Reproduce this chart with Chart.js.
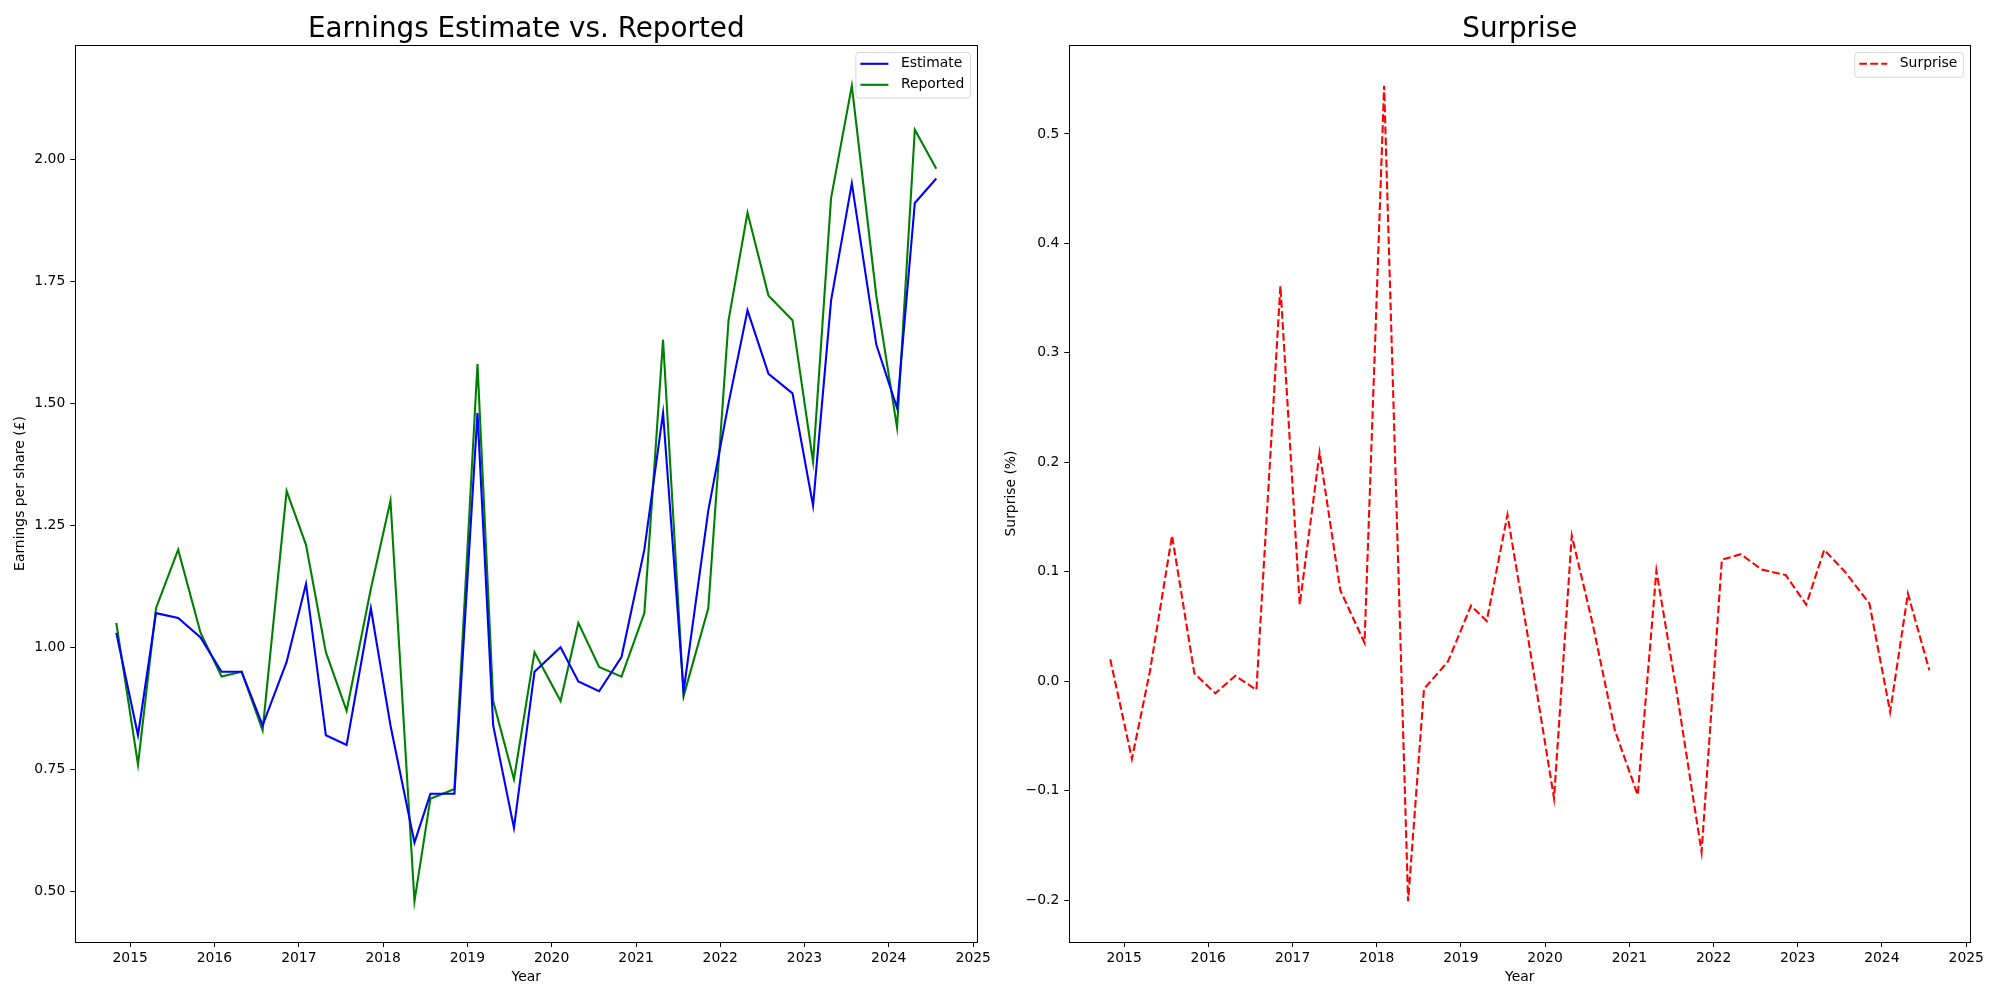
<!DOCTYPE html>
<html>
<head>
<meta charset="utf-8">
<script src="https://cdn.jsdelivr.net/npm/chart.js@4.4.1/dist/chart.umd.min.js"></script>
<style>
  html, body { margin: 0; padding: 0; background: #fff; }
  #wrap { position: relative; width: 2000px; height: 1000px; }
  canvas { position: absolute; top: 0; }
</style>
</head>
<body>
<div id="wrap">
  <canvas id="epsChart" width="1000" height="1000" style="left:0"></canvas>
  <canvas id="surpriseChart" width="1000" height="1000" style="left:1000px"></canvas>
</div>
<script>
// quarterly report dates
const reportDates = [
  "2014-11-02", "2015-02-04", "2015-04-23", "2015-07-28", "2015-11-02",
  "2016-02-01", "2016-04-28", "2016-07-28", "2016-11-09", "2017-02-01",
  "2017-04-28", "2017-07-27", "2017-11-09", "2018-02-02", "2018-05-17",
  "2018-07-25", "2018-11-06", "2019-02-14", "2019-04-23", "2019-07-22",
  "2019-10-19", "2020-02-09", "2020-04-26", "2020-07-25", "2020-10-30",
  "2021-02-06", "2021-04-28", "2021-07-26", "2021-11-10", "2022-02-06",
  "2022-04-29", "2022-07-29", "2022-11-10", "2023-02-07", "2023-04-26",
  "2023-07-25", "2023-11-08", "2024-02-06", "2024-04-23", "2024-07-25"
];
const estimateEps = [
  1.03, 0.82, 1.07, 1.06, 1.02, 0.95, 0.95, 0.84, 0.97, 1.13,
  0.82, 0.80, 1.08, 0.84, 0.60, 0.70, 0.70, 1.48, 0.84, 0.63,
  0.95, 1.00, 0.93, 0.91, 0.98, 1.20, 1.48, 0.91, 1.28, 1.50,
  1.69, 1.56, 1.52, 1.29, 1.71, 1.95, 1.62, 1.49, 1.91, 1.96
];
const reportedEps = [
  1.05, 0.76, 1.08, 1.20, 1.03, 0.94, 0.95, 0.83, 1.32, 1.21,
  0.99, 0.87, 1.12, 1.30, 0.48, 0.69, 0.71, 1.58, 0.89, 0.73,
  0.99, 0.89, 1.05, 0.96, 0.94, 1.07, 1.63, 0.90, 1.08, 1.67,
  1.89, 1.72, 1.67, 1.38, 1.92, 2.15, 1.72, 1.45, 2.06, 1.98
];
const surprisePct = [
  0.020, -0.071, 0.009, 0.133, 0.007, -0.011, 0.005, -0.008, 0.361, 0.070,
  0.209, 0.083, 0.035, 0.544, -0.201, -0.007, 0.018, 0.069, 0.055, 0.152,
  0.040, -0.107, 0.133, 0.053, -0.045, -0.104, 0.101, -0.011, -0.156, 0.111,
  0.116, 0.102, 0.097, 0.070, 0.120, 0.100, 0.071, -0.028, 0.080, 0.010
];
const yearTicks = [2015, 2016, 2017, 2018, 2019, 2020, 2021, 2022, 2023, 2024, 2025];
const epsTicks = [0.5, 0.75, 1.0, 1.25, 1.5, 1.75, 2.0];
const surpriseTicks = [-0.2, -0.1, 0.0, 0.1, 0.2, 0.3, 0.4, 0.5];

const DAY = 86400000;
const xs = reportDates.map(s => Date.parse(s + "T00:00:00Z") / DAY);
const yearPos = yearTicks.map(y => Date.UTC(y, 0, 1) / DAY);

// matplotlib style 5% margins
function padded(arr) {
  const lo = Math.min(...arr), hi = Math.max(...arr);
  const m = (hi - lo) * 0.05;
  return [lo - m, hi + m];
}
const xRange = padded(xs);

Chart.defaults.font.family = '"DejaVu Sans", sans-serif';
Chart.defaults.color = "#000";

// box round the plot area plus a title centred over it
const frame = {
  id: "frame",
  afterDraw(chart, args, opts) {
    const { ctx, chartArea: a } = chart;
    ctx.save();
    ctx.strokeStyle = "#000";
    ctx.lineWidth = 1;
    ctx.strokeRect(Math.round(a.left) + 0.5, Math.round(a.top) + 0.5,
      Math.round(a.right - a.left), Math.round(a.bottom - a.top));
    ctx.font = '27.8px "DejaVu Sans"';
    ctx.fillStyle = "#000";
    ctx.textAlign = "center";
    ctx.textBaseline = "middle";
    ctx.fillText(opts.title, (a.left + a.right) / 2, 29.7);
    ctx.restore();
  }
};

const boxedLegend = {
  id: "boxedLegend",
  afterDraw(chart) {
    const { ctx, chartArea } = chart;
    const sets = chart.data.datasets;
    ctx.save();
    ctx.font = '13.9px "DejaVu Sans"';
    const textW = Math.max(...sets.map(d => ctx.measureText(d.label).width));
    const w = 45 + textW + 6;
    const h = 4 + 20.8 * sets.length;
    const left = chartArea.right - 7 - w;
    const top = chartArea.top + 7.5;
    ctx.beginPath();
    ctx.roundRect(left, top, w, h, 3);
    ctx.fillStyle = "#fff";
    ctx.fill();
    ctx.strokeStyle = "#d6d6d6";
    ctx.lineWidth = 1;
    ctx.stroke();
    sets.forEach((d, i) => {
      const y = top + 11.3 + i * 21;
      ctx.beginPath();
      ctx.setLineDash(d.borderDash || []);
      ctx.strokeStyle = d.borderColor;
      ctx.lineWidth = d.borderWidth;
      ctx.moveTo(left + 4.5, y);
      ctx.lineTo(left + 32.5, y);
      ctx.stroke();
      ctx.setLineDash([]);
      ctx.fillStyle = "#000";
      ctx.textBaseline = "middle";
      ctx.textAlign = "left";
      ctx.fillText(d.label, left + 45, y);
    });
    ctx.restore();
  }
};

function makeOptions(cfg) {
  return {
    responsive: false,
    animation: false,
    devicePixelRatio: 1,
    layout: { padding: { left: 0, right: cfg.padRight, top: 45, bottom: 0 } },
    plugins: {
      legend: { display: false },
      tooltip: { enabled: false },
      title: { display: false },
      frame: { title: cfg.title }
    },
    scales: {
      x: {
        type: "linear",
        min: xRange[0],
        max: xRange[1],
        afterBuildTicks: s => { s.ticks = yearPos.map(v => ({ value: v })); },
        afterFit: s => { s.height = 58; },
        ticks: {
          font: { size: 13.9 },
          padding: 3,
          maxRotation: 0,
          autoSkip: false,
          callback: v => String(new Date(v * DAY).getUTCFullYear())
        },
        grid: { display: true, drawOnChartArea: false, drawTicks: true, tickLength: 5, color: "#000", lineWidth: 1 },
        border: { display: false },
        title: { display: true, text: "Year", font: { size: 13.9 }, padding: { top: 0, bottom: 14.6 } }
      },
      y: {
        type: "linear",
        min: cfg.yRange[0],
        max: cfg.yRange[1],
        afterBuildTicks: s => { s.ticks = cfg.yTicks.map(v => ({ value: v })); },
        afterFit: s => { s.width = cfg.yWidth; },
        ticks: { font: { size: 13.9 }, padding: 5, autoSkip: false, callback: cfg.yFmt },
        grid: { display: true, drawOnChartArea: false, drawTicks: true, tickLength: 5, color: "#000", lineWidth: 1 },
        border: { display: false },
        title: { display: true, text: cfg.yLabel, font: { size: 13.9 }, padding: { top: cfg.yTitlePad, bottom: 0 } }
      }
    }
  };
}

const pts = arr => arr.map((v, i) => ({ x: xs[i], y: v }));

new Chart(document.getElementById("epsChart"), {
  type: "line",
  data: {
    datasets: [
      { label: "Estimate", data: pts(estimateEps), borderColor: "#0000ff", borderWidth: 2.1, pointRadius: 0, tension: 0 },
      { label: "Reported", data: pts(reportedEps), borderColor: "#008000", borderWidth: 2.1, pointRadius: 0, tension: 0 }
    ]
  },
  options: makeOptions({
    title: "Earnings Estimate vs. Reported",
    yLabel: "Earnings per share (£)",
    yRange: padded(estimateEps.concat(reportedEps)),
    yTicks: epsTicks,
    yFmt: v => v.toFixed(2),
    yWidth: 75.3,
    yTitlePad: 11.6,
    padRight: 22.7
  }),
  plugins: [frame, boxedLegend]
});

new Chart(document.getElementById("surpriseChart"), {
  type: "line",
  data: {
    datasets: [
      { label: "Surprise", data: pts(surprisePct), borderColor: "#ff0000", borderWidth: 2.1, borderDash: [7.7, 3.3], pointRadius: 0, tension: 0 }
    ]
  },
  options: makeOptions({
    title: "Surprise",
    yLabel: "Surprise (%)",
    yRange: padded(surprisePct),
    yTicks: surpriseTicks,
    yFmt: v => v.toFixed(1).replace("-", "\u2212"),
    yWidth: 69.3,
    yTitlePad: 3.1,
    padRight: 29.7
  }),
  plugins: [frame, boxedLegend]
});
</script>
</body>
</html>
